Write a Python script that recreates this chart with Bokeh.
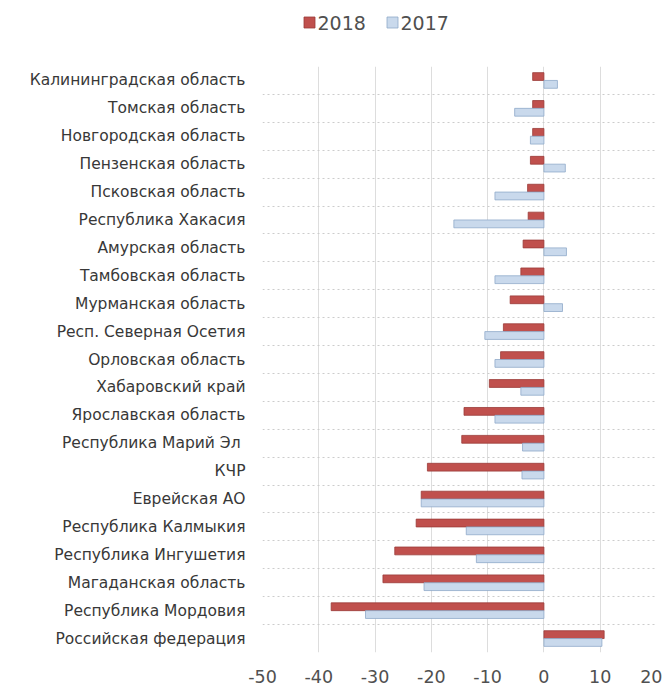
from bokeh.plotting import figure
from bokeh.layouts import column
from bokeh.models import Range1d, FixedTicker, ColumnDataSource
from bokeh.core.properties import value
from bokeh.transform import dodge
from bokeh.embed import file_html
from bokeh.resources import INLINE

regions = [
    "Калининградская область",
    "Томская область",
    "Новгородская область",
    "Пензенская область",
    "Псковская область",
    "Республика Хакасия",
    "Амурская область",
    "Тамбовская область",
    "Мурманская область",
    "Респ. Северная Осетия",
    "Орловская область",
    "Хабаровский край",
    "Ярославская область",
    "Республика Марий  Эл",
    "КЧР",
    "Еврейская АО",
    "Республика Калмыкия",
    "Республика Ингушетия",
    "Магаданская область",
    "Республика Мордовия",
    "Российская федерация",
]
v2018 = [-2.0, -2.0, -2.0, -2.4, -2.9, -2.8, -3.7, -4.1, -6.0, -7.2, -7.7,
         -9.7, -14.2, -14.6, -20.7, -21.8, -22.7, -26.5, -28.6, -37.8, 10.7]
v2017 = [2.4, -5.2, -2.4, 3.8, -8.7, -16.0, 4.0, -8.7, 3.3, -10.5, -8.7,
         -4.1, -8.7, -3.8, -3.9, -21.8, -13.8, -12.0, -21.3, -31.7, 10.3]
x_ticks = [-50, -40, -30, -20, -10, 0, 10, 20]
series_names = ["2018", "2017"]

RED_FILL, RED_LINE = "#c0504d", "#9b3b38"
BLUE_FILL, BLUE_LINE = "#c9d9ec", "#8fa9c9"

LEFT, FRAME_W, RIGHT = 262, 394, 6

n = len(regions)
ypos = [n - 1 - i for i in range(n)]
src = ColumnDataSource(dict(y=ypos, r=regions, a=v2018, b=v2017))

p = figure(frame_width=FRAME_W, frame_height=586, output_backend="svg", toolbar_location=None,
           x_range=Range1d(x_ticks[0], x_ticks[-1]), y_range=Range1d(-0.5, n - 0.5),
           min_border_left=LEFT, min_border_right=RIGHT, min_border_top=13, min_border_bottom=20)
p.outline_line_color = None
p.background_fill_color = "white"

r1 = p.hbar(y=dodge("y", 0.14), left=0, right="a", height=0.28, source=src,
            fill_color=RED_FILL, line_color=RED_LINE, line_width=0.8)
r2 = p.hbar(y=dodge("y", -0.14), left=0, right="b", height=0.28, source=src,
            fill_color=BLUE_FILL, line_color=BLUE_LINE, line_width=0.8)

# axes
p.xaxis.ticker = FixedTicker(ticks=x_ticks)
p.xaxis.major_label_overrides = {t: str(t) for t in x_ticks}
p.xaxis.axis_line_color = None
p.xaxis.major_tick_line_color = None
p.xaxis.minor_tick_line_color = None
p.xaxis.major_label_text_font = "DejaVu Sans"
p.xaxis.major_label_text_font_size = "17.5px"
p.xaxis.major_label_text_color = "#505050"
p.xaxis.major_label_standoff = 11

p.yaxis.ticker = FixedTicker(ticks=ypos)
p.yaxis.major_label_overrides = {y: r for y, r in zip(ypos, regions)}
p.yaxis.axis_line_color = None
p.yaxis.major_tick_line_color = None
p.yaxis.minor_tick_line_color = None
p.yaxis.major_label_text_font = "DejaVu Sans"
p.yaxis.major_label_text_font_size = "15.5px"
p.yaxis.major_label_text_color = "#383838"
p.yaxis.major_label_standoff = 11

# grids
p.xgrid.ticker = FixedTicker(ticks=x_ticks)
p.xgrid.grid_line_color = "#dddddd"
p.xgrid.grid_line_width = 1
p.ygrid.ticker = FixedTicker(ticks=[k - 0.5 for k in range(n + 1)])
p.ygrid.grid_line_color = "#cccccc"
p.ygrid.grid_line_dash = "2 3"
p.ygrid.grid_line_width = 1

# legend strip above the chart, in page-pixel coordinates
lg = figure(frame_width=FRAME_W, frame_height=53, output_backend="svg", toolbar_location=None,
            x_range=Range1d(LEFT, LEFT + FRAME_W), y_range=Range1d(53, 0),
            x_axis_location=None, y_axis_location=None,
            min_border_left=LEFT, min_border_right=RIGHT, min_border_top=0, min_border_bottom=0)
lg.outline_line_color = None
lg.xgrid.visible = False
lg.ygrid.visible = False
key_x = [309, 392]
key_y = [22, 22]
lg.rect(x=key_x, y=key_y, width=11, height=11, width_units="screen", height_units="screen",
        fill_color=[RED_FILL, BLUE_FILL], line_color=[RED_LINE, BLUE_LINE], line_width=0.8)
lg.text(x=[k + 8 for k in key_x], y=key_y, text=series_names,
        text_font=value("DejaVu Sans"), text_font_size="19px", text_color="#505050",
        text_baseline="middle", text_align="left")

layout = column(lg, p, spacing=0)
open("out.html", "w").write(file_html(layout, INLINE))
